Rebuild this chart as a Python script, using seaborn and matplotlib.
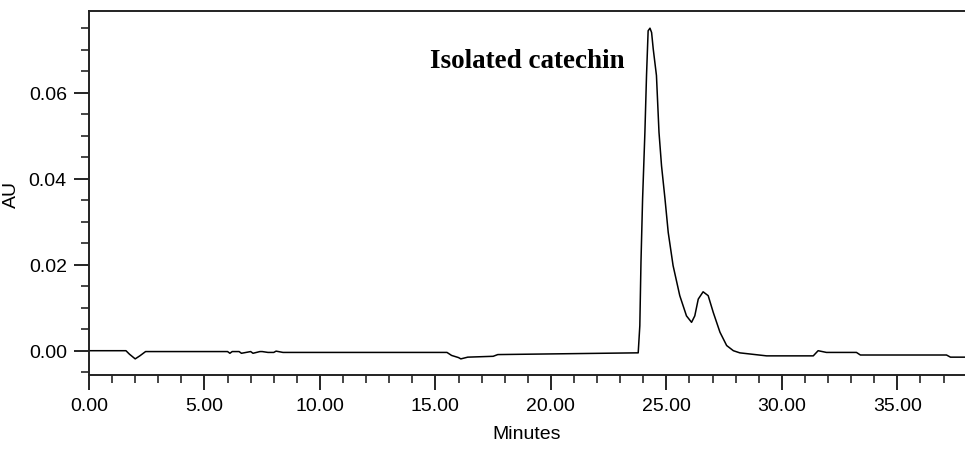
import pandas as pd
import matplotlib
matplotlib.use('Agg')
import matplotlib.pyplot as plt
from matplotlib.ticker import MultipleLocator, FormatStrFormatter
import seaborn as sns

# chromatogram trace
minutes = [0.0, 1.6, 1.75, 2.0, 2.2, 2.45, 6.0, 6.1, 6.2, 6.5, 6.6, 7.0, 7.1, 7.4, 7.5,
           7.75, 8.0, 8.1, 8.4, 8.5, 9.3, 9.4, 15.5, 15.7, 16.0, 16.1, 16.4, 17.5, 17.7,
           23.71, 23.78, 23.85, 23.90, 23.97, 24.07, 24.14, 24.21, 24.29, 24.36, 24.43,
           24.57, 24.68, 24.79, 24.94, 25.08, 25.29, 25.58, 25.87, 26.09, 26.23, 26.38,
           26.59, 26.81, 27.03, 27.32, 27.61, 27.90, 28.18, 29.34, 31.36, 31.57, 31.93,
           33.23, 33.4, 37.13, 37.3, 37.95]
au = [0.0, 0.0, -0.0008, -0.0019, -0.0012, -0.0002, -0.0002, -0.0006, -0.0002, -0.0002,
      -0.0006, -0.0002, -0.0006, -0.0002, -0.0002, -0.0004, -0.0004, -0.0001, -0.0004,
      -0.0004, -0.0004, -0.0004, -0.0004, -0.0011, -0.0016, -0.0019, -0.0015, -0.0013,
      -0.0009, -0.0005, -0.0005, 0.0058, 0.0206, 0.0353, 0.0508, 0.0640, 0.0744, 0.0750,
      0.0740, 0.0702, 0.0640, 0.0508, 0.0430, 0.0353, 0.0275, 0.0198, 0.0128, 0.0081,
      0.0066, 0.0081, 0.0120, 0.0137, 0.0128, 0.0089, 0.0043, 0.0012, 0.0000, -0.0005,
      -0.0012, -0.0012, 0.0000, -0.0004, -0.0004, -0.0010, -0.0010, -0.0015, -0.0015]

df = pd.DataFrame({'Minutes': minutes, 'AU': au})

sns.set_style('ticks')
plt.rcParams['font.family'] = ['Liberation Sans', 'DejaVu Sans']

fig = plt.figure(figsize=(9.65, 4.56), dpi=100)
ax = fig.add_axes([89 / 965, 1 - 376 / 456, (965 - 89) / 965, 364 / 456])

sns.lineplot(data=df, x='Minutes', y='AU', ax=ax, color='black', linewidth=1.1)

ax.set_xlim(0, 37.93)
ax.set_ylim(-0.00565, 0.0790)
ax.xaxis.set_major_locator(MultipleLocator(5))
ax.xaxis.set_minor_locator(MultipleLocator(1))
ax.yaxis.set_major_locator(MultipleLocator(0.02))
ax.yaxis.set_minor_locator(MultipleLocator(0.005))
ax.xaxis.set_major_formatter(FormatStrFormatter('%.2f'))
ax.yaxis.set_major_formatter(FormatStrFormatter('%.2f'))

ax.tick_params(axis='both', which='major', direction='out', length=11, width=1.2,
               labelsize=14, colors='black', pad=5)
ax.tick_params(axis='both', which='minor', direction='out', length=6, width=1.2)
for side in ['left', 'bottom', 'top']:
    ax.spines[side].set_linewidth(1.4)
    ax.spines[side].set_color('#222222')
ax.spines['right'].set_visible(False)

ax.set_xlabel('Minutes', fontsize=14, labelpad=8, color='black')
ax.set_ylabel('AU', fontsize=14, labelpad=6, color='black')

ax.text(14.75, 0.0676, 'Isolated catechin', fontsize=19.5, fontweight='bold',
        family=['Liberation Serif', 'DejaVu Serif'], va='center', ha='left',
        color='black')

fig.savefig('out.png', dpi=100)
